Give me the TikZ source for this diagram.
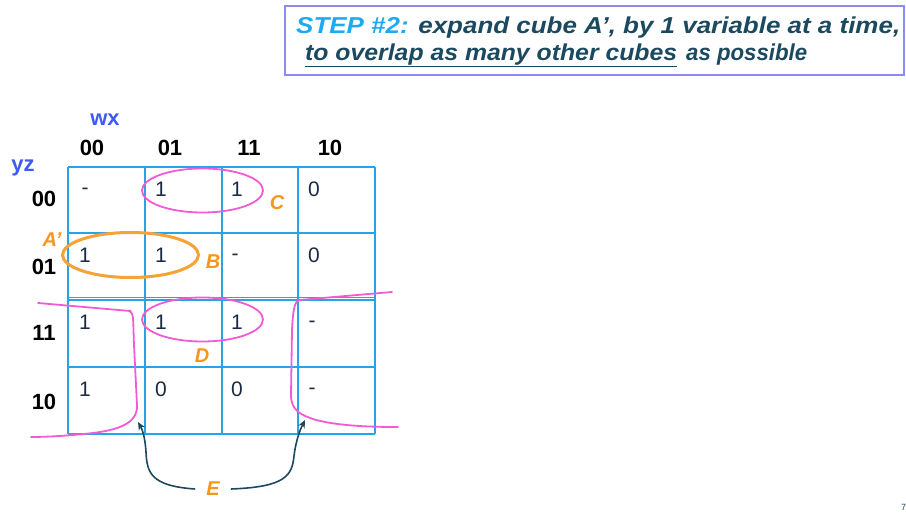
\documentclass[tikz,border=0pt]{standalone}
\usepackage{fontspec}
\setmainfont{Liberation Sans}
\usetikzlibrary{arrows.meta,shapes.geometric}
\definecolor{gridblue}{HTML}{2AA2E6}
\definecolor{boxpurple}{HTML}{8C8CF0}
\definecolor{stepblue}{HTML}{1EAAF2}
\definecolor{darkteal}{HTML}{1B4A60}
\definecolor{hdrblue}{HTML}{3D5BF0}
\definecolor{cellink}{HTML}{1A2A44}
\definecolor{loopmag}{HTML}{F25AD6}
\definecolor{loopor}{HTML}{F5A236}
\definecolor{lblor}{HTML}{F7961E}
\tikzset{
  hdr/.style={font=\fontsize{22}{24}\selectfont\bfseries, text=black, inner sep=0pt},
  varlbl/.style={font=\fontsize{22}{24}\selectfont\bfseries, text=hdrblue, inner sep=0pt},
  cellval/.style={font=\fontsize{21}{24}\selectfont, text=cellink, inner sep=0pt, anchor=base},
  cubelbl/.style={font=\fontsize{20}{24}\selectfont\bfseries\itshape, text=lblor, inner sep=0pt},
  magloop/.style={draw=loopmag, line width=1.8pt, ellipse, inner sep=0pt},
  edgeline/.style={draw=loopmag, line width=1.8pt, line cap=round, line join=round},
  gridline/.style={draw=gridblue, line width=1.3pt},
  pointer/.style={draw=darkteal, line width=1.6pt, -{Stealth[length=8pt,width=7pt]}},
  titletext/.style={font=\fontsize{23}{26}\selectfont\bfseries\itshape, text=darkteal, inner sep=0pt, anchor=base west}
}
\begin{document}
\begin{tikzpicture}[x=1pt,y=-1pt]
\useasboundingbox (0,0) rectangle (906,518);

% title box
\node[draw=boxpurple, line width=2.2pt, minimum width=619pt, minimum height=69pt, inner sep=0pt, anchor=north west] (titlebox) at (284,5) {};
\node[titletext] (t1) at (296,34) {\resizebox{604pt}{\height}{\textcolor{stepblue}{STEP \#2:} expand cube A’, by 1 variable at a time,}};
\node[titletext] (t2a) at (305,61) {\resizebox{372pt}{\height}{to overlap as many other cubes}};
\node[titletext] (t2b) at (686,61) {\resizebox{121pt}{\height}{as possible}};
\draw[darkteal, line width=1.8pt] ([yshift=-5.5pt]t2a.base west) -- ([yshift=-5.5pt]t2a.base east);

% Karnaugh map grid
\foreach \x in {68,145,222,298,375} \draw[gridline] (\x,167) -- (\x,434);
\foreach \y in {167,233,300,367,434} \draw[gridline] (68,\y) -- (375,\y);
\draw[gridblue, line width=0.7pt] (68,297) -- (375,297);

% variable names and headings
\node[varlbl] (wx) at (105,120) {wx};
\node[varlbl] (yz) at (23,168) {yz};
\node[hdr] (h00) at (92,148) {00};
\node[hdr] (h01) at (170,148) {01};
\node[hdr] (h11) at (249,148) {11};
\node[hdr] (h10) at (330,148) {10};
\node[hdr] (r00) at (44,199) {00};
\node[hdr] (r01) at (44,267) {01};
\node[hdr] (r11) at (44,333) {11};
\node[hdr] (r10) at (44,402) {10};

% cell values
\node[cellval] (v1) at (85,195) {-};
\node[cellval] (v2) at (161,197) {1};
\node[cellval] (v3) at (237,197) {1};
\node[cellval] (v4) at (314,197) {0};
\node[cellval] (v5) at (85,263) {1};
\node[cellval] (v6) at (161,263) {1};
\node[cellval] (v7) at (235,261) {-};
\node[cellval] (v8) at (314,263) {0};
\node[cellval] (v9) at (85,330) {1};
\node[cellval] (v10) at (161,330) {1};
\node[cellval] (v11) at (237,330) {1};
\node[cellval] (v12) at (312,328) {-};
\node[cellval] (v13) at (85,397) {1};
\node[cellval] (v14) at (161,397) {0};
\node[cellval] (v15) at (237,397) {0};
\node[cellval] (v16) at (312,395) {-};

% cube loops
\node[magloop, minimum width=121pt, minimum height=44pt] (cubeC) at (202.5,190.5) {};
\node[magloop, minimum width=121pt, minimum height=44pt] (cubeD) at (202.5,319.5) {};
\node[draw=loopor, line width=3pt, ellipse, inner sep=0pt, minimum width=136pt, minimum height=45pt] (cubeA) at (130.5,255) {};

% wrap-around cube E
\draw[edgeline] (38,303) -- (130,311) .. controls (134,313) and (133,322) .. (134,345)
  -- (137,405) .. controls (138,420) and (125,428) .. (100,432) .. controls (80,435) and (50,437) .. (31,437);
\draw[edgeline] (392,292) -- (299,300) .. controls (294,302) and (293,312) .. (292,330)
  -- (291,395) .. controls (291,410) and (300,415) .. (316,420) .. controls (340,426) and (370,427) .. (398,427);
\fill[loopmag] (130,311) circle (1.6pt);
\fill[loopmag] (299,300) circle (1.6pt);

% cube labels
\node[cubelbl] (lC) at (277,203) {C};
\node[cubelbl] (lA) at (52,240) {A’};
\node[cubelbl] (lB) at (213,262) {B};
\node[cubelbl] (lD) at (202,356) {D};
\node[cubelbl, inner xsep=11pt] (lE) at (213,489) {E};

% pointers from E to the two halves of the wrap-around cube
\coordinate (eLtip) at (138,422);
\coordinate (eRtip) at (305,420);
\draw[pointer] (lE.west) .. controls (150,486) and (147,472) .. (146,452) .. controls (145,436) and (142,429) .. (eLtip);
\draw[pointer] (lE.east) .. controls (285,487) and (292,476) .. (294,456) .. controls (296,440) and (300,430) .. (eRtip);

% page number
\node[font=\fontsize{9}{10}\selectfont, text=darkteal, inner sep=0pt, anchor=base west] (pg) at (901,511) {7};
\end{tikzpicture}
\end{document}
